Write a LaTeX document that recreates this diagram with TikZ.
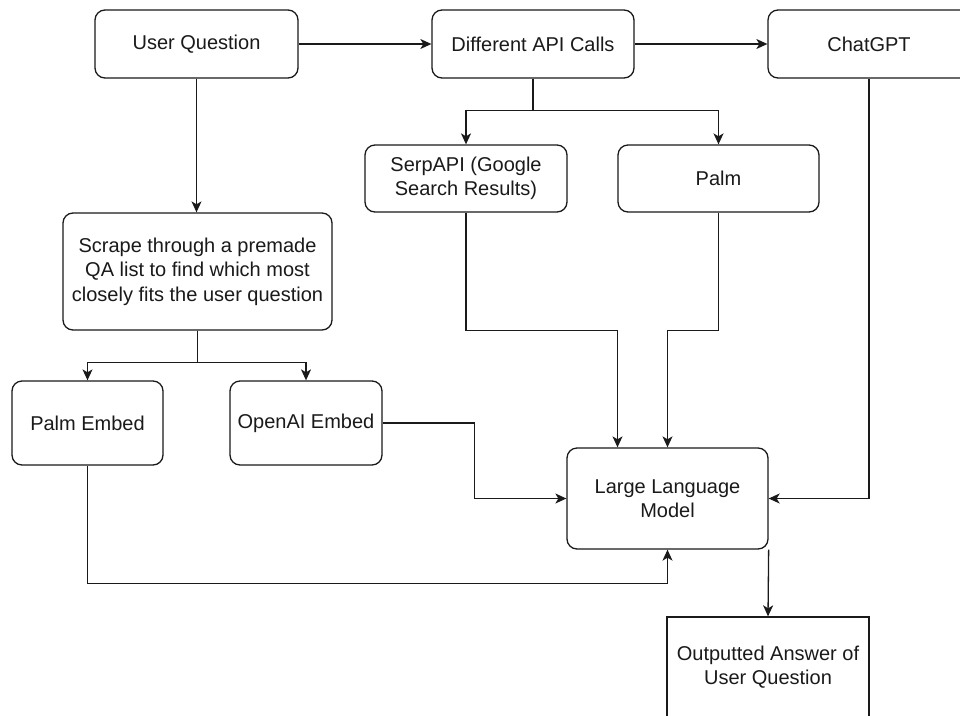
\documentclass[tikz,border=0pt]{standalone}
\usepackage{fontspec}
\setmainfont{Liberation Sans}
\usetikzlibrary{arrows.meta}
\definecolor{ink}{HTML}{1A1A1A}
\tikzset{
  box/.style={draw=ink, line width=1.3pt, rounded corners=10pt, fill=white,
    inner sep=0pt, align=center, text=ink,
    font=\fontsize{20}{24.5}\selectfont},
  sqbox/.style={box, rounded corners=0pt},
  conn/.style={draw=ink, line width=1.3pt, -{Stealth[length=11pt,width=10pt,inset=3pt]}},
}
\begin{document}
\begin{tikzpicture}[x=1pt,y=-1pt]
\clip (0,0) rectangle (960,715);
\fill[white] (0,0) rectangle (960,715);
\node[box, minimum width=203pt, minimum height=68pt] (uq) at (196.5,44) {User Question};
\node[box, minimum width=202pt, minimum height=68pt] (dac) at (533,44) {Different API Calls};
\node[box, minimum width=202pt, minimum height=68pt] (gpt) at (869,44) {ChatGPT};
\node[box, minimum width=202pt, minimum height=67pt] (serp) at (466,178.5) {SerpAPI (Google\\Search Results)};
\node[box, minimum width=201pt, minimum height=67pt] (palm) at (718.5,178.5) {Palm};
\node[box, minimum width=269pt, minimum height=117pt] (scrape) at (197.5,271.5) {Scrape through a premade\\QA list to find which most\\closely fits the user question};
\node[box, minimum width=151pt, minimum height=84pt] (pe) at (87.5,423) {Palm Embed};
\node[box, minimum width=152pt, minimum height=84pt] (oe) at (306,423) {OpenAI Embed};
\node[box, minimum width=201pt, minimum height=101pt] (llm) at (667.5,498.5) {Large Language\\Model};
\node[sqbox, minimum width=202pt, minimum height=100pt] (out) at (768,667) {Outputted Answer of\\User Question};

\draw[conn] (uq.east) -- (dac.west);
\draw[conn] (dac.east) -- (gpt.west);
\draw[conn] (uq.south) -- (uq.south |- scrape.north);
\draw[conn] (dac.south) -- ++(0,32) -| (serp.north);
\draw[conn] (dac.south) -- ++(0,32) -| (palm.north);
\draw[conn] (scrape.south) -- ++(0,32) -| (pe.north);
\draw[conn] (scrape.south) -- ++(0,32) -| (oe.north);
\draw[conn] (serp.south) -- ++(0,118) -| ([xshift=-50pt]llm.north);
\draw[conn] (palm.south) -- ++(0,118) -| (llm.north);
\draw[conn] (oe.east) -- ++(92,0) |- (llm.west);
\draw[conn] (pe.south) -- ++(0,118) -| (llm.south);
\draw[conn] (gpt.south) |- (llm.east);
\draw[conn] (llm.south east) -- (out.north);
\end{tikzpicture}
\end{document}
